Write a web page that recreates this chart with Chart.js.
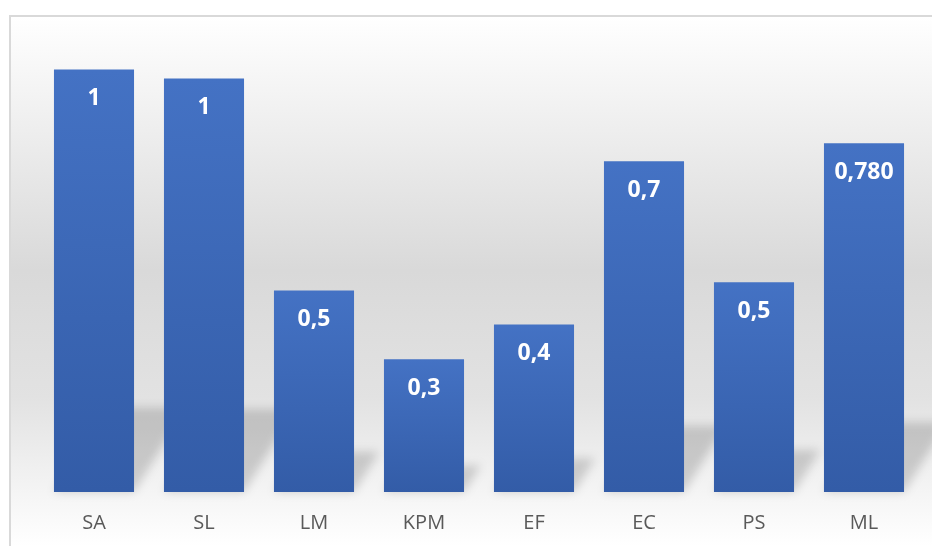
<!DOCTYPE html>
<html>
<head>
<meta charset="utf-8">
<script src="https://cdn.jsdelivr.net/npm/chart.js@4.4.1/dist/chart.umd.min.js"></script>
<style>
  html, body { margin: 0; padding: 0; background: #fff; }
  #wrap { width: 932px; height: 546px; position: relative; }
</style>
</head>
<body>
<div id="wrap"><canvas id="barChart"></canvas></div>
<script>
const categories = ['SA', 'SL', 'LM', 'KPM', 'EF', 'EC', 'PS', 'ML'];
const values = [0.945, 0.925, 0.451, 0.297, 0.375, 0.740, 0.469, 0.780];
const valueLabels = ['1', '1', '0,5', '0,3', '0,4', '0,7', '0,5', '0,780'];

// frame + vertical gradient behind the plot
const framePlugin = {
    id: 'frame',
    beforeDraw(chart) {
        const ctx = chart.ctx;
        const w = chart.width, h = chart.height;
        ctx.save();
        const g = ctx.createLinearGradient(0, 16, 0, h);
        g.addColorStop(0, '#ffffff');
        g.addColorStop(0.48, '#d9d9d9');
        g.addColorStop(0.72, '#e2e2e2');
        g.addColorStop(1, '#ffffff');
        ctx.fillStyle = g;
        ctx.fillRect(10, 16, w - 10, h - 16);
        ctx.strokeStyle = '#d9d9d9';
        ctx.lineWidth = 2;
        ctx.beginPath();
        ctx.moveTo(10, h);
        ctx.lineTo(10, 16);
        ctx.lineTo(w, 16);
        ctx.stroke();
        ctx.restore();
    }
};

// soft perspective shadow behind each bar
const shadowPlugin = {
    id: 'barShadow',
    beforeDatasetsDraw(chart) {
        const ctx = chart.ctx;
        const meta = chart.getDatasetMeta(0);
        ctx.save();
        ctx.filter = 'blur(5px)';
        ctx.fillStyle = 'rgba(0,0,0,0.16)';
        meta.data.forEach(bar => {
            const half = bar.width / 2;
            const sh = (bar.base - bar.y) * 0.2;
            const dx = sh * 0.62;
            ctx.beginPath();
            ctx.moveTo(bar.x - half, bar.base);
            ctx.lineTo(bar.x + half, bar.base);
            ctx.lineTo(bar.x + half + dx, bar.base - sh);
            ctx.lineTo(bar.x - half + dx, bar.base - sh);
            ctx.closePath();
            ctx.fill();
        });
        ctx.restore();
    }
};

const valueLabelPlugin = {
    id: 'valueLabels',
    afterDatasetsDraw(chart) {
        const ctx = chart.ctx;
        const meta = chart.getDatasetMeta(0);
        ctx.save();
        ctx.fillStyle = '#ffffff';
        ctx.font = 'bold 23px "Open Sans", sans-serif';
        ctx.textAlign = 'center';
        ctx.textBaseline = 'middle';
        meta.data.forEach((bar, i) => {
            ctx.fillText(valueLabels[i], bar.x, bar.y + 29);
        });
        ctx.restore();
    }
};

function barGradient(context) {
    const chart = context.chart;
    const yScale = chart.scales.y;
    if (!yScale || context.type !== 'data') return '#4472c4';
    const top = yScale.getPixelForValue(context.raw);
    const base = yScale.getPixelForValue(0);
    if (!isFinite(top) || !isFinite(base)) return '#4472c4';
    const g = chart.ctx.createLinearGradient(0, top, 0, base);
    g.addColorStop(0, '#4472c4');
    g.addColorStop(1, '#335ca7');
    return g;
}

new Chart(document.getElementById('barChart'), {
    type: 'bar',
    data: {
        labels: categories,
        datasets: [{
            data: values,
            backgroundColor: barGradient,
            borderWidth: 0,
            barPercentage: 0.728,
            categoryPercentage: 1
        }]
    },
    options: {
        responsive: true,
        maintainAspectRatio: false,
        animation: false,
        layout: {
            padding: { left: 39, right: 13, top: 45, bottom: 0 }
        },
        plugins: {
            legend: { display: false },
            tooltip: { enabled: false }
        },
        scales: {
            x: {
                grid: { display: false, drawTicks: false },
                border: { display: false },
                ticks: {
                    color: '#595959',
                    padding: 19,
                    font: { family: '"Open Sans", sans-serif', size: 20 }
                },
                afterFit(scale) {
                    scale.height = 54;
                }
            },
            y: {
                display: false,
                min: 0,
                max: 1
            }
        }
    },
    plugins: [framePlugin, shadowPlugin, valueLabelPlugin]
});
</script>
</body>
</html>
